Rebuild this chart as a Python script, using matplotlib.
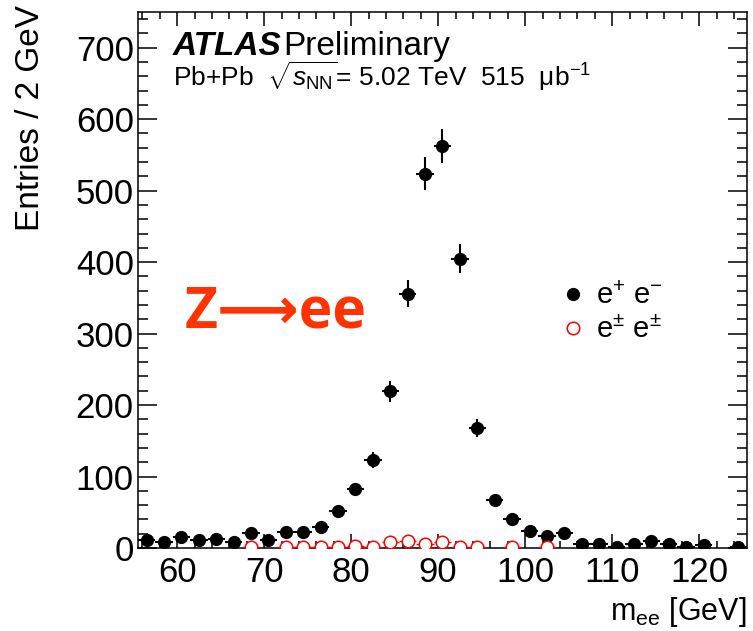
import numpy as np
import matplotlib
matplotlib.use("Agg")
import matplotlib.pyplot as plt
from matplotlib.lines import Line2D

plt.rcParams['font.family'] = ['Liberation Sans', 'DejaVu Sans']
plt.rcParams['mathtext.fontset'] = 'custom'
plt.rcParams['mathtext.rm'] = 'Liberation Sans'
plt.rcParams['mathtext.it'] = 'Liberation Sans:italic'
plt.rcParams['mathtext.bf'] = 'Liberation Sans:bold'

# opposite sign pairs, 2 GeV bins from 55.5 to 125.5
os_mass = np.arange(56.5, 125.5, 2.0)
os_counts = np.array([11, 8, 15, 11, 12, 8, 21, 11, 22, 23, 29, 52, 82, 123, 219,
                      356, 524, 562, 405, 168, 67, 41, 24, 17, 21, 6, 6, 2, 5, 10,
                      5, 2, 4, 0, 2])
# same sign pairs
ss_mass = np.array([68.5, 72.5, 74.5, 76.5, 78.5, 80.5, 82.5, 84.5, 86.5, 88.5,
                    90.5, 92.5, 94.5, 98.5, 102.5])
ss_counts = np.array([1, 1, 2, 2, 1, 3, 2, 8, 10, 5, 8, 2, 2, 1, 1])

fig = plt.figure(figsize=(7.53, 6.31), dpi=100)
ax = fig.add_axes([138/753, 83/631, 609/753, 536/631])

keep = os_counts > 0
ax.errorbar(os_mass[keep], os_counts[keep], xerr=1.0, yerr=np.sqrt(os_counts[keep]),
            fmt='o', color='black', ms=8.5, elinewidth=1.5, capsize=0, zorder=3)
ax.errorbar(ss_mass, ss_counts, xerr=1.0, yerr=np.sqrt(ss_counts),
            fmt='o', color='red', mfc='white', mec='red', ms=9, mew=1.1,
            elinewidth=1.0, capsize=0, zorder=4)

ax.set_xlim(55.5, 125.5)
ax.set_ylim(0, 750)
ax.set_xticks(np.arange(60, 121, 10))
ax.set_xticks(np.arange(56, 126, 2), minor=True)
ax.set_yticks(np.arange(0, 701, 100))
ax.set_yticks(np.arange(0, 751, 20), minor=True)
ax.tick_params(axis='both', which='both', direction='in', top=True, right=True,
               width=1.1, labelsize=25)
ax.tick_params(axis='x', which='major', length=10, pad=6)
ax.tick_params(axis='x', which='minor', length=5)
ax.tick_params(axis='y', which='major', length=13.5, pad=3)
ax.tick_params(axis='y', which='minor', length=7)
for s in ax.spines.values():
    s.set_linewidth(1.1)

fig.text(31/753, 1 - 5/631, 'Entries / 2 GeV', rotation=90, ha='center', va='top',
         fontsize=24)
fig.text(747/753, 1 - 620/631, r'$\mathregular{m_{ee}}$ [GeV]', ha='right',
         va='baseline', fontsize=22)

fig.text(173/753, 1 - 55/631, 'ATLAS', fontsize=24, fontweight='bold',
         fontstyle='italic', va='baseline')
fig.text(283/753, 1 - 55/631, 'Preliminary', fontsize=24, va='baseline')
fig.text(173/753, 1 - 86/631,
         r'Pb+Pb  $\sqrt{s_{\mathrm{NN}}}$= 5.02 TeV  515  μb$^{\mathregular{-1}}$',
         fontsize=19, va='baseline')

fig.text(185/753, 1 - 327/631, 'Z⟶ee', fontsize=41, fontweight='bold',
         color='#ff3300', family=['Open Sans', 'DejaVu Sans'], va='baseline')

handles = [Line2D([], [], marker='o', ls='none', color='black', ms=8.5),
           Line2D([], [], marker='o', ls='none', mfc='white', mec='red', ms=9,
                  mew=1.1)]
labels = [r'$\mathregular{e^{+}\ e^{-}}$', r'$\mathregular{e^{\pm}\ e^{\pm}}$']
ax.legend(handles, labels, loc='upper left', bbox_to_anchor=(0.652, 0.545),
          frameon=False, fontsize=21, handlelength=0.8, handletextpad=0.4,
          labelspacing=0.2)

fig.savefig('out.png', dpi=100)
